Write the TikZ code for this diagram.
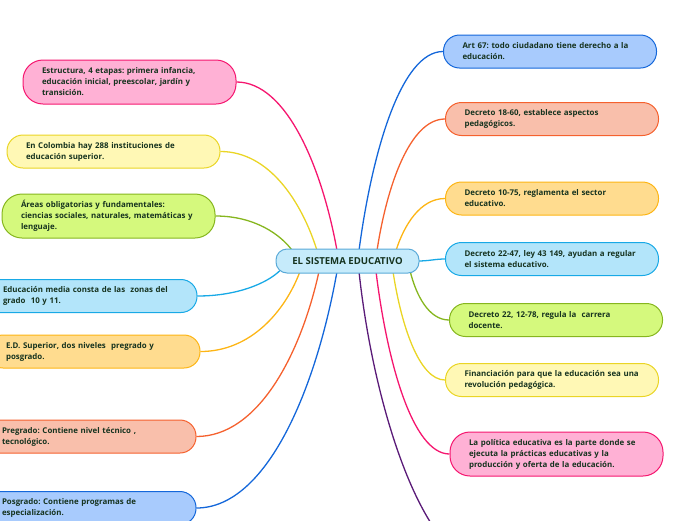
\documentclass[tikz,border=0pt]{standalone}
\usepackage{fontspec}
\setmainfont{Open Sans}
\usetikzlibrary{calc}
\frenchspacing
\definecolor{txt}{HTML}{16331F}
\definecolor{pkF}{HTML}{FFB1D5}\definecolor{pkD}{HTML}{F5166F}
\definecolor{ylF}{HTML}{FFF8B5}\definecolor{ylD}{HTML}{EAD525}
\definecolor{grF}{HTML}{D5F97D}\definecolor{grD}{HTML}{86B61E}
\definecolor{lbF}{HTML}{B3E5FA}\definecolor{lbD}{HTML}{18A9E6}
\definecolor{orF}{HTML}{FFDC8F}\definecolor{orD}{HTML}{FDB515}
\definecolor{saF}{HTML}{F9BFAB}\definecolor{saD}{HTML}{F5612E}
\definecolor{blF}{HTML}{A8CBFD}\definecolor{blD}{HTML}{1467DA}
\definecolor{puD}{HTML}{5A1B78}
\definecolor{ceF}{HTML}{C6EBFB}\definecolor{ceD}{HTML}{5AAAD8}
\pgfdeclarelayer{background}
\pgfsetlayers{background,main}
\tikzset{
  leaf/.style={draw, line width=1pt, rounded corners=16pt, text width=175pt,
    inner xsep=19pt, inner ysep=0pt, minimum height=33pt, align=left,
    font=\fontsize{7.9}{11}\selectfont\bfseries, text=txt},
  tall/.style={minimum height=44pt, rounded corners=20pt},
  pk/.style={fill=pkF, draw=pkD}, yl/.style={fill=ylF, draw=ylD},
  gr/.style={fill=grF, draw=grD}, lb/.style={fill=lbF, draw=lbD},
  or/.style={fill=orF, draw=orD}, sa/.style={fill=saF, draw=saD},
  bl/.style={fill=blF, draw=blD},
  conn/.style={line width=1.3pt},
  centre/.style={draw=ceD, fill=ceF, line width=1pt, rounded corners=11pt,
    minimum width=143pt, minimum height=24pt, inner sep=0pt,
    font=\fontsize{9.6}{11}\selectfont\bfseries, text=txt}
}
\begin{document}
\begin{tikzpicture}[x=1pt,y=-1pt]
\useasboundingbox (0,0) rectangle (696,520);
\node[centre] (C) at (347.5,261) {EL SISTEMA EDUCATIVO};
% left leaves
\node[leaf,tall,pk] (L1) at (129.5,82) {Estructura, 4 etapas: primera infancia,\\ educación inicial, preescolar, jardín y\\ transición.};
\node[leaf,yl] (L2) at (113.5,151.5) {En Colombia hay 288 instituciones de\\ educación superior.};
\node[leaf,tall,gr] (L3) at (108.5,216) {Áreas obligatorias y fundamentales:\\ ciencias sociales, naturales, matemáticas y\\ lenguaje.};
\node[leaf,lb] (L4) at (90.5,296) {Educación media consta de las~ zonas del\\ grado~ 10 y 11.};
\node[leaf,or] (L5) at (93.5,351.5) {E.D. Superior, dos niveles~ pregrado y\\ posgrado.};
\node[leaf,sa] (L6) at (89.5,436.5) {Pregrado: Contiene nivel técnico ,\\ tecnológico.};
\node[leaf,bl] (L7) at (89.5,508) {Posgrado: Contiene programas de\\ especialización.};
% right leaves
\node[leaf,bl] (R1) at (550,51.5) {Art 67: todo ciudadano tiene derecho a la\\ educación.};
\node[leaf,sa] (R2) at (552,119) {Decreto 18-60, establece aspectos\\ pedagógicos.};
\node[leaf,or] (R3) at (552,198.5) {Decreto 10-75, reglamenta el sector\\ educativo.};
\node[leaf,lb] (R4) at (552,259) {Decreto 22-47, ley 43 149, ayudan a regular\\ el sistema educativo.};
\node[leaf,gr] (R5) at (556,320) {Decreto 22, 12-78, regula la~ carrera\\ docente.};
\node[leaf,yl] (R6) at (552,380) {Financiación para que la educación sea una\\ revolución pedagógica.};
\node[leaf,tall,pk] (R7) at (556.5,454) {La política educativa es la parte donde se\\ ejecuta la prácticas educativas y la\\ producción y oferta de la educación.};
% attachment points on the centre
\coordinate (tg) at ($(C.north)+(-54.5,3)$);
\coordinate (ty) at ($(C.north)+(-30.5,2)$);
\coordinate (tp) at ($(C.north)+(-10.5,2)$);
\coordinate (tb) at ($(C.north)+(11.5,2)$);
\coordinate (ts) at ($(C.north)+(29.5,2)$);
\coordinate (to) at ($(C.north)+(48.5,2)$);
\coordinate (re) at ($(C.east)+(-2,0)$);
\coordinate (bl) at ($(C.south)+(-67.5,-3)$);
\coordinate (bo) at ($(C.south)+(-47.5,-2)$);
\coordinate (bs) at ($(C.south)+(-28.5,-2)$);
\coordinate (bb) at ($(C.south)+(-10.5,-2)$);
\coordinate (bu) at ($(C.south)+(11.5,-2)$);
\coordinate (bp) at ($(C.south)+(28.5,-2)$);
\coordinate (by) at ($(C.south)+(45.5,-2)$);
\coordinate (bg) at ($(C.south)+(62.5,-3)$);
\coordinate (pend) at (485,565);
\begin{pgfonlayer}{background}
\draw[conn,grD] (tg) .. controls +(-12,-17) and +(39,0) .. (L3.east);
\draw[conn,ylD] (ty) .. controls +(-15,-48) and +(49,0) .. (L2.east);
\draw[conn,pkD] (tp) .. controls +(-15,-83) and +(50,0) .. (L1.east);
\draw[conn,blD] (tb) .. controls +(13,-98) and +(-42,0) .. (R1.west);
\draw[conn,saD] (ts) .. controls +(10,-65) and +(-35,0) .. (R2.west);
\draw[conn,orD] (to) .. controls +(8,-25) and +(-25,0) .. (R3.west);
\draw[conn,lbD] (re) .. controls +(12,0) and +(-10,0) .. (R4.west);
\draw[conn,lbD] (bl) .. controls +(-12,12) and +(41,0) .. (L4.east);
\draw[conn,orD] (bo) .. controls +(-15,40) and +(50,0) .. (L5.east);
\draw[conn,saD] (bs) .. controls +(-18,82) and +(62,0) .. (L6.east);
\draw[conn,blD] (bb) .. controls +(-21,118) and +(70,0) .. (L7.east);
\draw[conn,puD] (bu) .. controls +(15,140) and +(-60,0) .. (pend);
\draw[conn,pkD] (bp) .. controls +(11,90) and +(-37,0) .. (R7.west);
\draw[conn,ylD] (by) .. controls +(8,53) and +(-26,0) .. (R6.west);
\draw[conn,grD] (bg) .. controls +(6,25) and +(-20,0) .. (R5.west);
\end{pgfonlayer}
\end{tikzpicture}
\end{document}
